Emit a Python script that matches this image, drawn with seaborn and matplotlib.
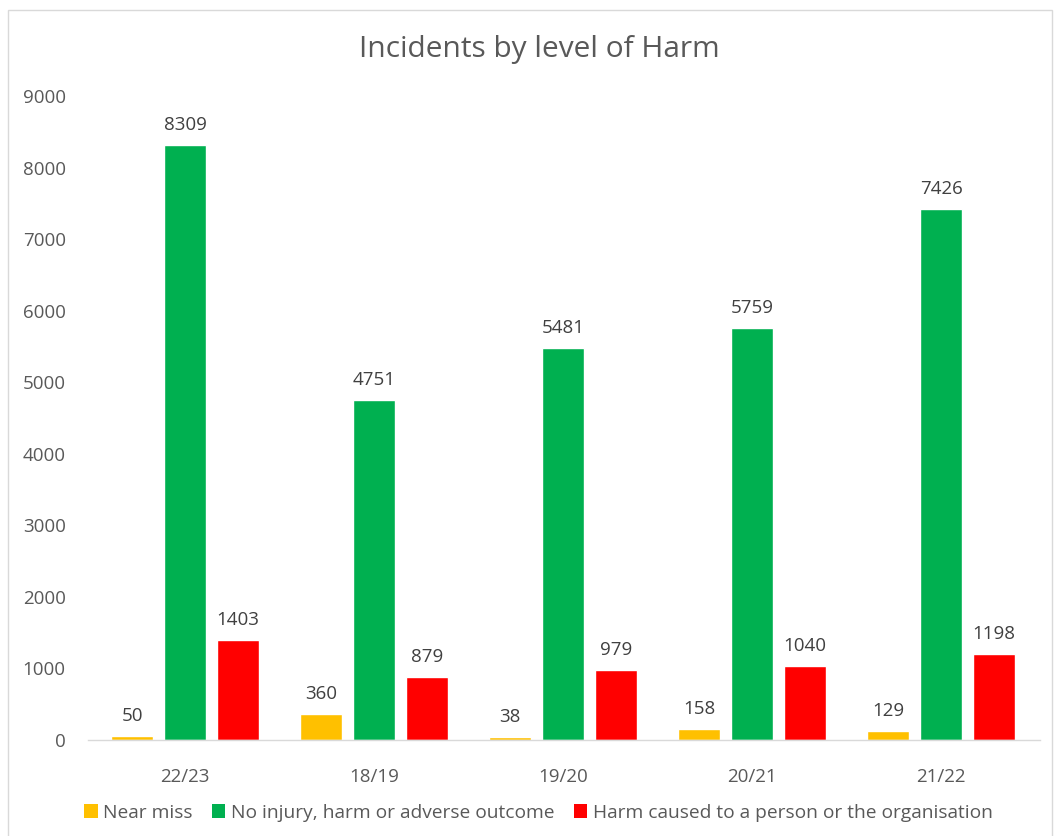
import pandas as pd
import matplotlib.pyplot as plt
import seaborn as sns
from matplotlib.patches import Rectangle, Patch

years = ['22/23', '18/19', '19/20', '20/21', '21/22']
near_miss = [50, 360, 38, 158, 129]
no_injury = [8309, 4751, 5481, 5759, 7426]
harm = [1403, 879, 979, 1040, 1198]
series_names = ['Near miss', 'No injury, harm or adverse outcome',
                'Harm caused to a person or the organisation']
colors = ['#FFC000', '#00B050', '#FF0000']

# long form table for seaborn
df = pd.DataFrame({
    'Year': years * 3,
    'Level': [series_names[0]] * 5 + [series_names[1]] * 5 + [series_names[2]] * 5,
    'Count': near_miss + no_injury + harm,
})

sns.set_style('white')
plt.rcParams['font.family'] = ['Open Sans', 'DejaVu Sans']
text_col = '#595959'

fig = plt.figure(figsize=(10.54, 8.36), dpi=100)
ax = fig.add_axes([0.0835, 0.1148, 0.9035, 0.7703])

sns.barplot(data=df, x='Year', y='Count', hue='Level', order=years,
            hue_order=series_names, palette=colors, width=0.84, gap=0.2,
            saturation=1, legend=False, ax=ax)

# value labels
for container in ax.containers:
    ax.bar_label(container, fmt='%d', padding=8, fontsize=13.5, color='#404040')

ax.set_ylim(0, 9000)
ax.set_xlim(-0.513, 4.524)
ax.set_yticks(range(0, 9001, 1000))
ax.set_xlabel('')
ax.set_ylabel('')
ax.tick_params(axis='both', labelsize=13.5, colors=text_col, length=0)
ax.tick_params(axis='y', pad=16)
ax.tick_params(axis='x', pad=20)
for side in ['top', 'right', 'left']:
    ax.spines[side].set_visible(False)
ax.spines['bottom'].set_color('#D9D9D9')
ax.spines['bottom'].set_linewidth(1)

fig.text(0.512, 0.941, 'Incidents by level of Harm', ha='center', va='center',
         fontsize=21.5, color=text_col)

handles = [Patch(facecolor=c, edgecolor='none') for c in colors]
fig.legend(handles, series_names, loc='center', bbox_to_anchor=(0.511, 0.028),
           ncol=3, frameon=False, fontsize=13.8, labelcolor=text_col,
           handlelength=0.7, handleheight=0.8, handletextpad=0.3,
           columnspacing=1.0)

# chart border
fig.patches.append(Rectangle((0.008, -0.01), 0.99, 0.998, transform=fig.transFigure,
                             fill=False, edgecolor='#D9D9D9', linewidth=1))

fig.savefig('out.png', dpi=100)
